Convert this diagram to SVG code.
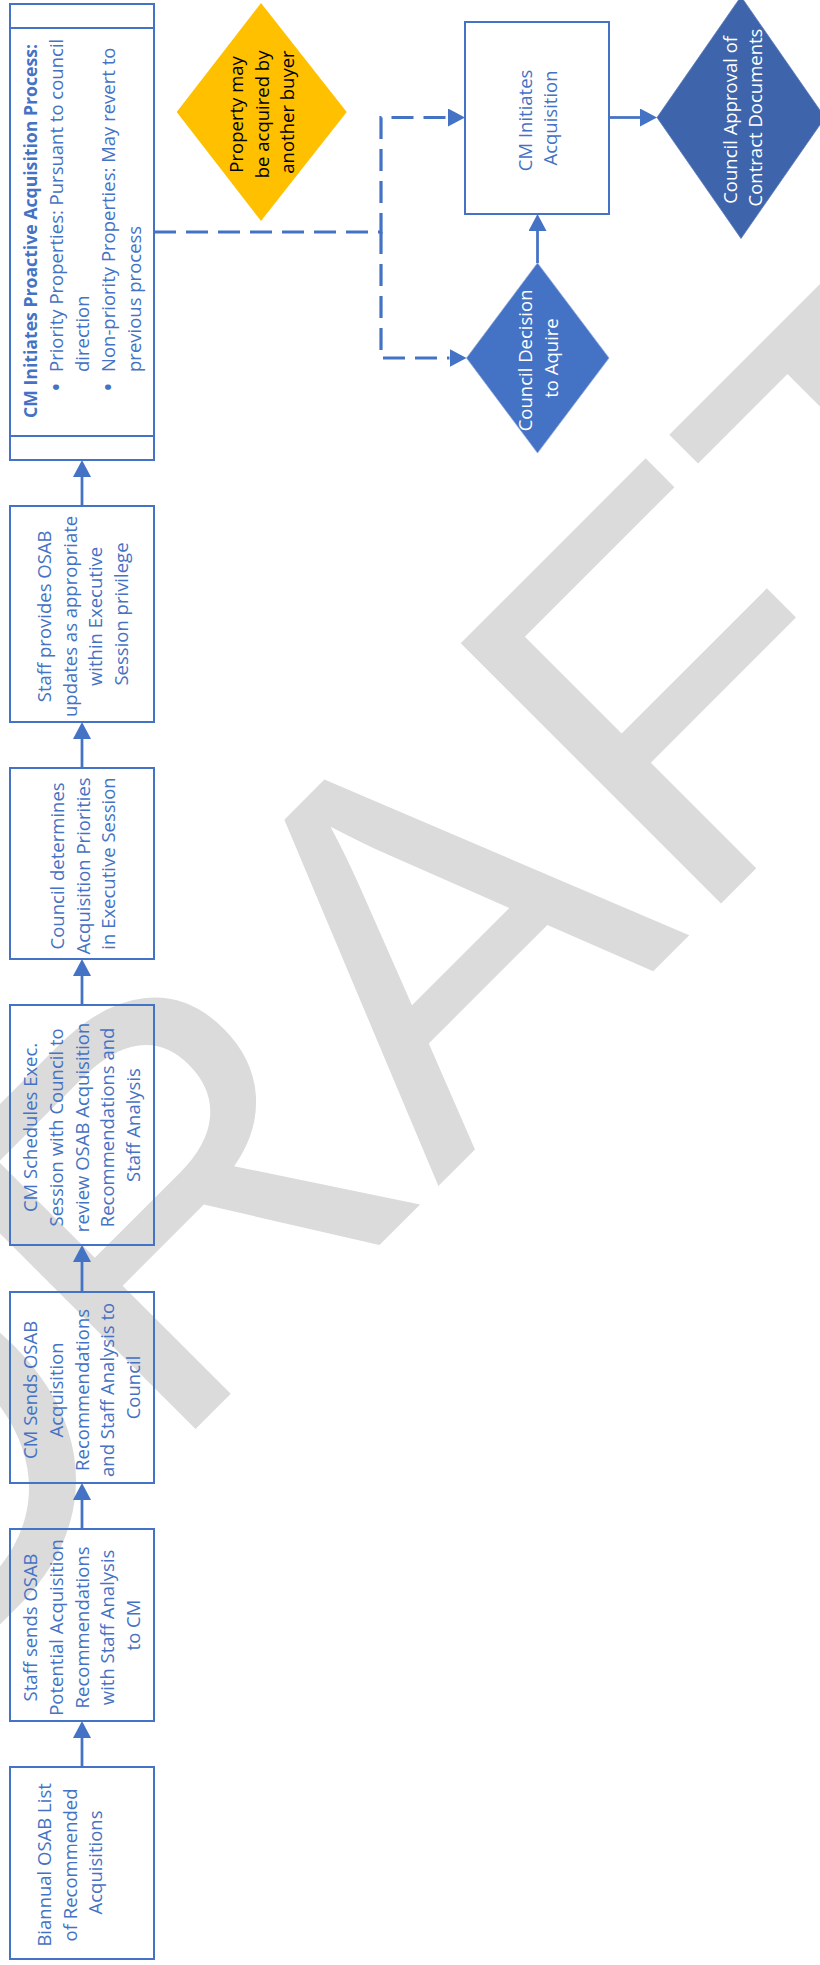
<svg xmlns="http://www.w3.org/2000/svg" width="820" height="1965" viewBox="0 0 820 1965">
<defs>
<style>
.box{fill:none;stroke:#4472C4;stroke-width:2}
.t{font-family:'Open Sans','Noto Sans',sans-serif;font-size:18.5px;fill:#4472C4}
.tc{text-anchor:middle}
.b{font-weight:bold;font-size:17.6px}
.bul{font-size:26px}
.w{fill:#FFFFFF}
.k{fill:#000000}
.con{fill:none;stroke:#4472C4;stroke-width:2.75}
.dash{fill:none;stroke:#4472C4;stroke-width:3.2;stroke-dasharray:22 10}
.wm{font-family:'Liberation Sans',Arial,sans-serif;font-size:535px;fill:#DBDBDB}
</style>
<marker id="ah" markerUnits="userSpaceOnUse" markerWidth="17" markerHeight="18" viewBox="0 0 17 18" refX="0" refY="9" orient="auto">
<path d="M0,0 L17,9 L0,18 z" fill="#4472C4"/>
</marker>
</defs>
<rect x="0" y="0" width="820" height="1965" fill="#FFFFFF"/>
<text class="wm" x="0" y="0" transform="translate(-108.75,1733.25) rotate(-45)">DRAFT</text>

<g id="n-proactive">
<rect class="box" x="10" y="4" width="144" height="456"/>
<line class="box" x1="10" y1="28" x2="154" y2="28"/>
<line class="box" x1="10" y1="436" x2="154" y2="436"/>
<text class="t" transform="translate(82,232) rotate(-90)">
<tspan class="b" x="-186" y="-45" textLength="374" lengthAdjust="spacingAndGlyphs">CM Initiates Proactive Acquisition Process:</tspan>
<tspan class="bul" x="-160" y="-17">•</tspan>
<tspan x="-140" y="-19">Priority Properties: Pursuant to council</tspan>
<tspan x="-140" y="7">direction</tspan>
<tspan class="bul" x="-160" y="35">•</tspan>
<tspan x="-140" y="33">Non-priority Properties: May revert to</tspan>
<tspan x="-140" y="59">previous process</tspan>
</text>
</g>

<g id="n-staff-provides">
<rect class="box" x="10" y="506" width="144" height="216"/>
<text class="t tc" transform="translate(82,614) rotate(-90)">
<tspan x="0" y="-31">Staff provides OSAB</tspan>
<tspan x="0" y="-5.3">updates as appropriate</tspan>
<tspan x="0" y="20.4">within Executive</tspan>
<tspan x="0" y="46.1">Session privilege</tspan>
</text>
</g>

<g id="n-council-determines">
<rect class="box" x="10" y="768" width="144" height="191"/>
<text class="t tc" transform="translate(82,863.5) rotate(-90)">
<tspan x="0" y="-18.2">Council determines</tspan>
<tspan x="0" y="7.5">Acquisition Priorities</tspan>
<tspan x="0" y="33.2">in Executive Session</tspan>
</text>
</g>

<g id="n-cm-schedules">
<rect class="box" x="10" y="1005" width="144" height="240"/>
<text class="t tc" transform="translate(82,1125) rotate(-90)">
<tspan x="0" y="-44.9">CM Schedules Exec.</tspan>
<tspan x="0" y="-19.2">Session with Council to</tspan>
<tspan x="0" y="6.5">review OSAB Acquisition</tspan>
<tspan x="0" y="32.2">Recommendations and</tspan>
<tspan x="0" y="57.9">Staff Analysis</tspan>
</text>
</g>

<g id="n-cm-sends">
<rect class="box" x="10" y="1292" width="144" height="191"/>
<text class="t tc" transform="translate(82,1387.5) rotate(-90)">
<tspan x="0" y="-44.9">CM Sends OSAB</tspan>
<tspan x="0" y="-19.2">Acquisition</tspan>
<tspan x="0" y="6.5">Recommendations</tspan>
<tspan x="0" y="32.2">and Staff Analysis to</tspan>
<tspan x="0" y="57.9">Council</tspan>
</text>
</g>

<g id="n-staff-sends">
<rect class="box" x="10" y="1529" width="144" height="192"/>
<text class="t tc" transform="translate(82,1625) rotate(-90)">
<tspan x="0" y="-44.9">Staff sends OSAB</tspan>
<tspan x="0" y="-19.2">Potential Acquisition</tspan>
<tspan x="0" y="6.5">Recommendations</tspan>
<tspan x="0" y="32.2">with Staff Analysis</tspan>
<tspan x="0" y="57.9">to CM</tspan>
</text>
</g>

<g id="n-biannual">
<rect class="box" x="10" y="1767" width="144" height="192"/>
<text class="t tc" transform="translate(82,1862.5) rotate(-90)">
<tspan x="0" y="-31">Biannual OSAB List</tspan>
<tspan x="0" y="-5.3">of Recommended</tspan>
<tspan x="0" y="20.4">Acquisitions</tspan>
</text>
</g>

<g id="n-property-buyer">
<polygon points="261,3 346.7,112 261,221 176.7,112" fill="#FFC000"/>
<text class="t tc k" transform="translate(261,112) rotate(-90)">
<tspan x="0" y="-18">Property may</tspan>
<tspan x="0" y="7.5">be acquired by</tspan>
<tspan x="0" y="33">another buyer</tspan>
</text>
</g>

<g id="n-cm-initiates">
<rect class="box" x="465" y="22" width="144" height="192"/>
<text class="t tc" transform="translate(537,118) rotate(-90)">
<tspan x="0" y="-5.4">CM Initiates</tspan>
<tspan x="0" y="20.4">Acquisition</tspan>
</text>
</g>

<g id="n-council-decision">
<polygon points="537.5,263 609,358 537.5,453 466.5,358" fill="#4472C4" stroke="#8FA8D8" stroke-width="0.8"/>
<text class="t tc w" transform="translate(537.5,358) rotate(-90)">
<tspan x="0" y="-5.4">Council Decision</tspan>
<tspan x="0" y="20.4">to Aquire</tspan>
</text>
</g>

<g id="n-council-approval">
<polygon points="741,-3.5 825,117.5 741,238.5 657,117.5" fill="#3E64AC" stroke="#5A7AB8" stroke-width="0.8"/>
<text class="t tc w" transform="translate(741,117.5) rotate(-90)">
<tspan x="0" y="-4.4">Council Approval of</tspan>
<tspan x="0" y="21.4">Contract Documents</tspan>
</text>
</g>

<g id="connectors">
<path class="con" d="M82,1767 V1738" marker-end="url(#ah)"/>
<path class="con" d="M82,1529 V1500" marker-end="url(#ah)"/>
<path class="con" d="M82,1292 V1262" marker-end="url(#ah)"/>
<path class="con" d="M82,1005 V976" marker-end="url(#ah)"/>
<path class="con" d="M82,768 V739" marker-end="url(#ah)"/>
<path class="con" d="M82,506 V477" marker-end="url(#ah)"/>
<path class="con" d="M537.5,263 V231" marker-end="url(#ah)"/>
<path class="con" d="M609,117.5 H640" marker-end="url(#ah)"/>
<path class="dash" d="M154,232 H381 V117.5 H448" marker-end="url(#ah)"/>
<path class="dash" d="M381,232 V358 H449.5" marker-end="url(#ah)"/>
</g>
</svg>
